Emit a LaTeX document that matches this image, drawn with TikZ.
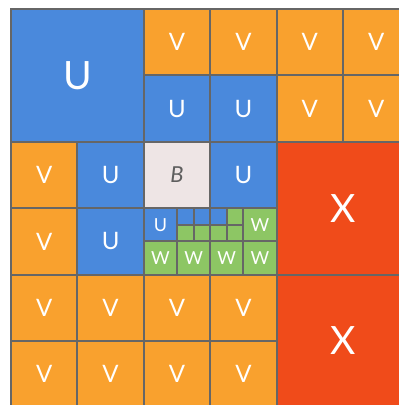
\documentclass[tikz,border=0pt]{standalone}
\usepackage{fontspec}
\setmainfont{Lato}
\definecolor{cellblue}{HTML}{4A89DC}
\definecolor{cellorange}{HTML}{F9A12E}
\definecolor{cellred}{HTML}{F04B1A}
\definecolor{cellgreen}{HTML}{8DC664}
\definecolor{cellpink}{HTML}{EEE5E5}
\definecolor{gridgray}{HTML}{666666}
\definecolor{bgray}{HTML}{5E5E5E}

\begin{document}
\begin{tikzpicture}[x=1pt,y=-1pt,
  box/.style={draw=gridgray,line width=2pt,anchor=north west,
    inner sep=0pt,minimum size=#1,text=white},
  big/.style={box=132.8,font=\fontsize{39}{39}\selectfont},
  one/.style={box=66.4,font=\fontsize{24}{24}\selectfont},
  half/.style={box=33.2,font=\fontsize{18}{18}\selectfont},
  quarter/.style={box=16.6},
  ufill/.style={fill=cellblue},
  vfill/.style={fill=cellorange},
  xfill/.style={fill=cellred},
  wfill/.style={fill=cellgreen},
  bfill/.style={fill=cellpink,text=bgray,font=\fontsize{22}{22}\selectfont\itshape}
]
\useasboundingbox (0,0) rectangle (399,405);
\clip (0,0) rectangle (399,405);

% big blocks
\node[big,ufill] (ubig) at (10,8) {U};
\node[big,xfill] (xtop) at (275.6,140.8) {X};
\node[big,xfill] (xbot) at (275.6,273.6) {X};

% row 0 and 1
\foreach \c in {2,...,5}
  \node[one,vfill] (v0\c) at ({10+66.4*\c},8) {V};
\node[one,ufill] (u12) at (142.8,74.4) {U};
\node[one,ufill] (u13) at (209.2,74.4) {U};
\foreach \c in {4,5}
  \node[one,vfill] (v1\c) at ({10+66.4*\c},74.4) {V};

% row 2
\node[one,vfill] (v20) at (10,140.8) {V};
\node[one,ufill] (u21) at (76.4,140.8) {U};
\node[one,bfill] (b22) at (142.8,140.8) {B};
\node[one,ufill] (u23) at (209.2,140.8) {U};

% row 3
\node[one,vfill] (v30) at (10,207.2) {V};
\node[one,ufill] (u31) at (76.4,207.2) {U};
\node[half,ufill] (uh) at (142.8,207.2) {U};
\foreach \k/\f in {0/ufill,1/ufill,2/ufill,3/wfill}
  \node[quarter,\f] (qa\k) at ({176+16.6*\k},207.2) {};
\foreach \k in {0,...,3}
  \node[quarter,wfill] (qb\k) at ({176+16.6*\k},223.8) {};
\node[half,wfill] (wh) at (242.4,207.2) {W};
\foreach \k in {0,...,3}
  \node[half,wfill] (w\k) at ({142.8+33.2*\k},240.4) {W};

% rows 4 and 5
\foreach \r in {4,5}
  \foreach \c in {0,...,3}
    \node[one,vfill] (v\r\c) at ({10+66.4*\c},{8+66.4*\r}) {V};
\end{tikzpicture}
\end{document}
